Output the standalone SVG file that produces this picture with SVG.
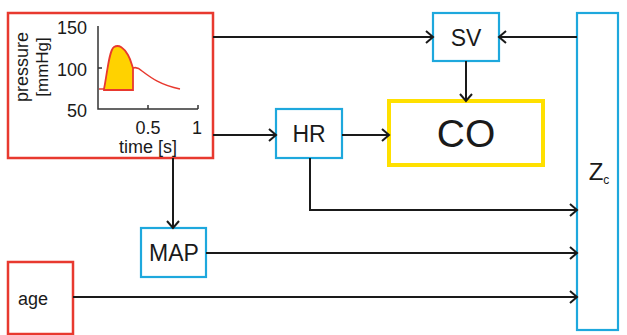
<svg xmlns="http://www.w3.org/2000/svg" width="627" height="335" viewBox="0 0 627 335">
<style>
.red{fill:#fff;stroke:#e8392f;stroke-width:2.5}
.blue{fill:#fff;stroke:#1ea8dd;stroke-width:2.2}
.lbl{font-family:"Liberation Sans",Arial,sans-serif;fill:#1a1a1a;text-anchor:middle}
.ax{stroke:#333;stroke-width:1.5;fill:none}
.con{stroke:#1a1a1a;stroke-width:2;fill:none;marker-end:url(#arr)}
</style>
<defs>
<marker id="arr" markerUnits="userSpaceOnUse" markerWidth="12" markerHeight="14" refX="10" refY="7" orient="auto">
<path d="M3,1 L10,7 L3,13" fill="none" stroke="#1a1a1a" stroke-width="2"/>
</marker>
</defs>
<g id="pressure">
<rect class="red" x="8" y="13" width="205" height="145"/>
<path class="ax" d="M98,26 V109 H198 M98,68 H102 M148,109 V105 M198,109 V105"/>
<path d="M104,89 C107,75 109,50 114,47 C119,44 124,48 128,55 C131,60 132,66 133,68 L133,90 L104,90 Z" fill="#ffd200" stroke="#e8392f" stroke-width="1.8"/>
<path d="M99,89 L104,89 M133,68 C136,67 139,68 142,71 C150,77 160,85 180,89" fill="none" stroke="#e8392f" stroke-width="1.5"/>
<text class="lbl" x="72" y="34" font-size="18">150</text>
<text class="lbl" x="72" y="76" font-size="18">100</text>
<text class="lbl" x="77" y="117" font-size="18">50</text>
<text class="lbl" x="148" y="134" font-size="18">0.5</text>
<text class="lbl" x="197" y="134" font-size="18">1</text>
<text class="lbl" x="148" y="153" font-size="18">time [s]</text>
<text class="lbl" transform="translate(28,67) rotate(-90)" font-size="18">pressure</text>
<text class="lbl" transform="translate(48,67) rotate(-90)" font-size="17">[mmHg]</text>
</g>
<g id="SV">
<rect class="blue" x="433" y="13" width="66" height="48"/>
<text class="lbl" x="466" y="46" font-size="23">SV</text>
</g>
<g id="CO">
<rect x="389" y="101" width="154" height="64" fill="#fff" stroke="#ffe000" stroke-width="4"/>
<text class="lbl" x="466" y="147" font-size="39">CO</text>
</g>
<g id="HR">
<rect class="blue" x="276" y="109" width="66" height="49"/>
<text class="lbl" x="309" y="142" font-size="23">HR</text>
</g>
<g id="MAP">
<rect class="blue" x="141" y="228" width="65" height="49"/>
<text class="lbl" x="174" y="261" font-size="23">MAP</text>
</g>
<g id="age">
<rect class="red" x="8" y="262" width="65" height="72"/>
<text class="lbl" x="33" y="305" font-size="18">age</text>
</g>
<g id="Zc">
<rect class="blue" x="577" y="13" width="41" height="317"/>
<text class="lbl" x="599" y="180" font-size="24">Z<tspan font-size="12" dy="4">c</tspan></text>
</g>
<g id="connectors">
<path class="con" d="M213,37 H433"/>
<path class="con" d="M577,37 H499"/>
<path class="con" d="M466,61 V101"/>
<path class="con" d="M213,135 H276"/>
<path class="con" d="M342,135 H389"/>
<path class="con" d="M310,158 V210 H577"/>
<path class="con" d="M173,158 V228"/>
<path class="con" d="M206,253 H577"/>
<path class="con" d="M73,297 H577"/>
</g>
</svg>
